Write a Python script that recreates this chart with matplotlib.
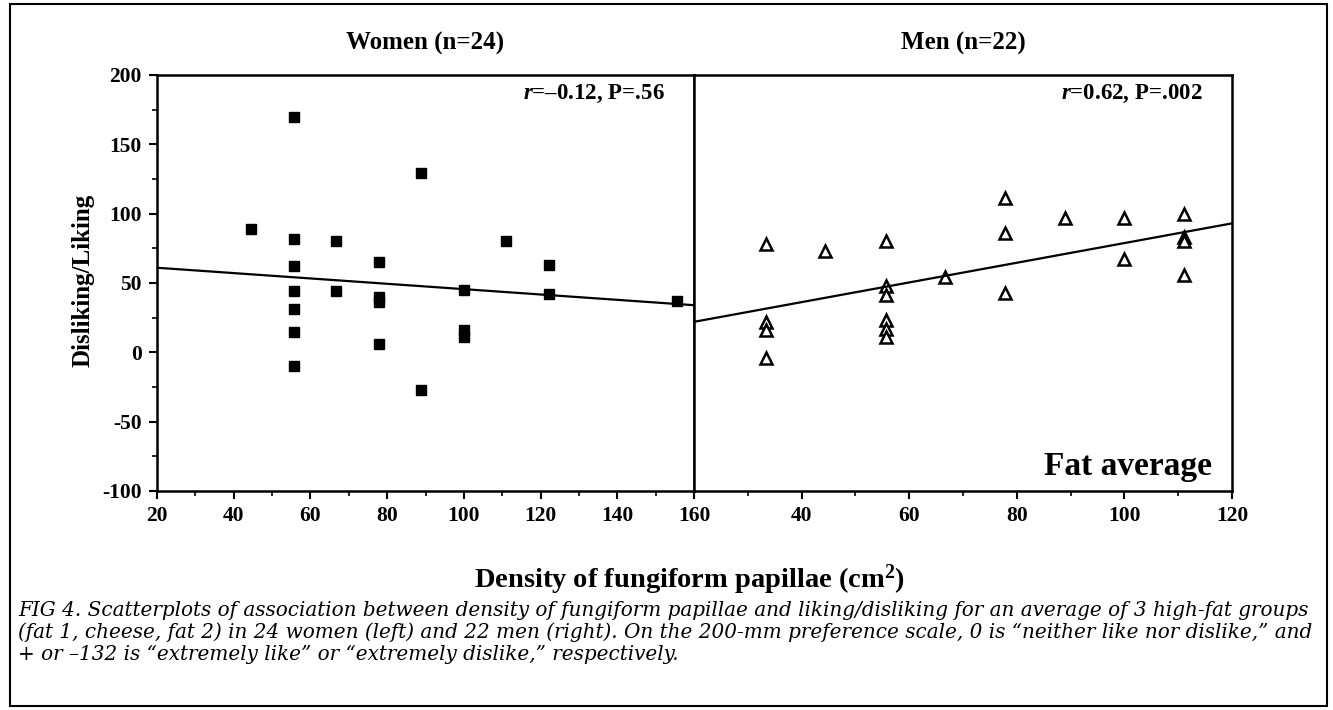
import matplotlib
matplotlib.use("Agg")
import matplotlib.pyplot as plt
from matplotlib.patches import Rectangle
from matplotlib.ticker import MultipleLocator

plt.rcParams['font.family'] = ['Liberation Serif', 'DejaVu Serif']
plt.rcParams['mathtext.fontset'] = 'custom'
plt.rcParams['mathtext.it'] = 'Liberation Serif:italic:bold'
plt.rcParams['mathtext.rm'] = 'Liberation Serif:bold'
plt.rcParams['mathtext.bf'] = 'Liberation Serif:bold'

# women: papillae density (cm^2) vs disliking/liking
women_x = [44.4, 55.6, 55.6, 55.6, 55.6, 55.6, 55.6, 55.6, 66.7, 66.7, 77.8, 77.8,
           77.8, 77.8, 88.9, 88.9, 100.0, 100.0, 100.0, 111.1, 122.2, 122.2, 155.6]
women_y = [89, 170, 82, 62, 44, 31, 15, -10, 80, 44, 65, 40,
           36, 6, 129, -27, 45, 16, 11, 80, 63, 42, 37]
women_fit_x = [20, 160]
women_fit_y = [61, 34]

# men
men_x = [33.3, 33.3, 33.3, 33.3, 44.4, 55.6, 55.6, 55.6, 55.6, 55.6, 55.6,
         66.7, 77.8, 77.8, 77.8, 88.9, 100.0, 100.0, 111.1, 111.1, 111.1, 111.1]
men_y = [78, 22, 16, -4, 73, 80, 48, 41, 23, 17, 11,
         54, 111, 86, 43, 97, 97, 67, 100, 83, 80, 56]
men_fit_x = [20, 120]
men_fit_y = [22, 93]

women_xticks = [20, 40, 60, 80, 100, 120, 140, 160]
men_xticks = [20, 40, 60, 80, 100, 120]
men_xticklabels = ['', '40', '60', '80', '100', '120']
yticks = [-100, -50, 0, 50, 100, 150, 200]

caption = [
    "FIG 4. Scatterplots of association between density of fungiform papillae and liking/disliking for an average of 3 high-fat groups",
    "(fat 1, cheese, fat 2) in 24 women (left) and 22 men (right). On the 200-mm preference scale, 0 is \u201cneither like nor dislike,\u201d and",
    "+ or \u2013132 is \u201cextremely like\u201d or \u201cextremely dislike,\u201d respectively.",
]

W, H = 1333, 710
fig = plt.figure(figsize=(W / 100, H / 100), dpi=100)
fig.patch.set_facecolor('white')

axL = fig.add_axes([157 / W, 1 - 491 / H, 537 / W, 416 / H])
axR = fig.add_axes([694 / W, 1 - 491 / H, 538 / W, 416 / H])

for ax in (axL, axR):
    for s in ax.spines.values():
        s.set_linewidth(1.8)
    ax.set_ylim(-100, 200)
    ax.tick_params(which='major', direction='out', length=6, width=1.5,
                   labelsize=15.5, pad=5)
    ax.tick_params(which='minor', direction='out', length=3.5, width=1.2)
    ax.xaxis.set_minor_locator(MultipleLocator(10))

# left panel
axL.set_xlim(20, 160)
axL.plot(women_x, women_y, 's', color='black', ms=7.5, ls='none')
axL.plot(women_fit_x, women_fit_y, color='black', lw=1.6)
axL.set_xticks(women_xticks)
axL.set_xticklabels([str(t) for t in women_xticks], fontweight='bold')
axL.set_yticks(yticks)
axL.set_yticklabels([str(t) for t in yticks], fontweight='bold')
axL.yaxis.set_minor_locator(MultipleLocator(25))
axL.text(0.5, 1.075, "Women (n=24)", transform=axL.transAxes, ha='center',
         va='center', fontsize=18, fontweight='bold')
axL.text(0.945, 0.955, "$r$=\u20130.12, P=.56", transform=axL.transAxes,
         ha='right', va='center', fontsize=16.5, fontweight='bold')

# right panel
axR.set_xlim(20, 120)
axR.plot(men_x, men_y, '^', mfc='white', mec='black', mew=1.8, ms=9, ls='none')
axR.plot(men_fit_x, men_fit_y, color='black', lw=1.6)
axR.set_xticks(men_xticks)
axR.set_xticklabels(men_xticklabels, fontweight='bold')
axR.set_yticks([])
axR.text(0.5, 1.075, "Men (n=22)", transform=axR.transAxes, ha='center',
         va='center', fontsize=18, fontweight='bold')
axR.text(0.945, 0.955, "$r$=0.62, P=.002", transform=axR.transAxes,
         ha='right', va='center', fontsize=16.5, fontweight='bold')
axR.text(0.962, 0.058, "Fat average", transform=axR.transAxes,
         ha='right', va='center', fontsize=24, fontweight='bold')

fig.text(83 / W, 1 - 280 / H, "Disliking/Liking", rotation=90, ha='center',
         va='center', fontsize=18, fontweight='bold')
fig.text(690 / W, 1 - 580 / H, "Density of fungiform papillae (cm$^{2}$)",
         ha='center', va='center', fontsize=20.5, fontweight='bold')

for i, line in enumerate(caption):
    fig.text(18 / W, 1 - (610 + i * 22) / H, line, ha='left', va='center',
             fontsize=14.4, style='italic', family='DejaVu Serif')

fig.patches.append(Rectangle((10 / W, 4 / H), 1317 / W, 702 / H,
                             transform=fig.transFigure, fill=False,
                             lw=1.5, ec='black'))

fig.savefig("out.png", dpi=100)
